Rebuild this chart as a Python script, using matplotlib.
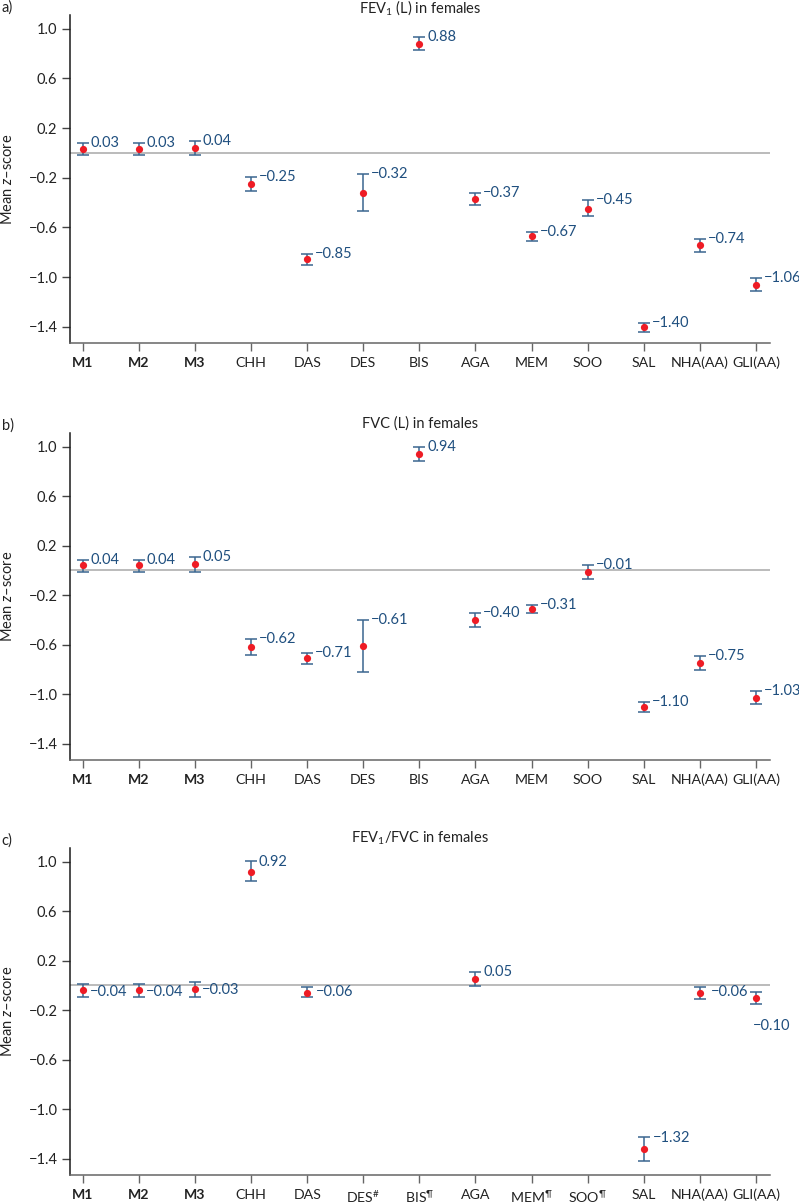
import numpy as np
import matplotlib
matplotlib.use('Agg')
import matplotlib.pyplot as plt

plt.rcParams['font.family'] = ['Lato', 'DejaVu Sans']
plt.rcParams['mathtext.fontset'] = 'custom'
plt.rcParams['mathtext.rm'] = 'Lato'
plt.rcParams['mathtext.it'] = 'Lato:italic'
plt.rcParams['mathtext.bf'] = 'Lato:bold'

# categories
cats = ['M1', 'M2', 'M3', 'CHH', 'DAS', 'DES', 'BIS', 'AGA', 'MEM', 'SOO', 'SAL', 'NHA(AA)', 'GLI(AA)']
cats_c = ['M1', 'M2', 'M3', 'CHH', 'DAS', r'DES$^{\#}$', r'BIS$^{\P}$', 'AGA',
          r'MEM$^{\P}$', r'SOO$^{\P}$', 'SAL', 'NHA(AA)', 'GLI(AA)']
nan = np.nan

# a) FEV1
mean_a = [0.03, 0.03, 0.04, -0.25, -0.85, -0.32, 0.88, -0.37, -0.67, -0.45, -1.40, -0.74, -1.06]
lo_a = [-0.02, -0.02, -0.02, -0.31, -0.90, -0.47, 0.83, -0.42, -0.71, -0.51, -1.445, -0.80, -1.115]
hi_a = [0.08, 0.08, 0.10, -0.19, -0.81, -0.17, 0.93, -0.32, -0.64, -0.38, -1.365, -0.69, -1.005]

# b) FVC
mean_b = [0.04, 0.04, 0.05, -0.62, -0.71, -0.61, 0.94, -0.40, -0.31, -0.01, -1.10, -0.75, -1.03]
lo_b = [-0.01, -0.01, -0.01, -0.685, -0.755, -0.82, 0.88, -0.46, -0.345, -0.065, -1.14, -0.80, -1.08]
hi_b = [0.085, 0.085, 0.11, -0.555, -0.67, -0.40, 0.995, -0.34, -0.28, 0.045, -1.06, -0.69, -0.97]

# c) FEV1/FVC
mean_c = [-0.04, -0.04, -0.03, 0.92, -0.06, nan, nan, 0.05, nan, nan, -1.32, -0.06, -0.10]
lo_c = [-0.095, -0.095, -0.09, 0.84, -0.095, nan, nan, -0.005, nan, nan, -1.415, -0.11, -0.15]
hi_c = [0.015, 0.01, 0.03, 1.005, -0.01, nan, nan, 0.11, nan, nan, -1.22, -0.01, -0.055]
# where the value labels sit in panel c (some were moved below the zero line)
laby_c = [-0.052, -0.054, -0.035, 1.0, -0.054, nan, nan, 0.108, nan, nan, -1.228, -0.054, -0.33]
labdx_c = [0.12, 0.12, 0.12, 0.14, 0.16, 0, 0, 0.14, 0, 0, 0.16, 0.19, -0.06]

yticks = [1.0, 0.6, 0.2, -0.2, -0.6, -1.0, -1.4]

fig = plt.figure(figsize=(7.99, 12.04), dpi=100)

panels = [
    ('a)', r'FEV$_1$ (L) in females', cats, mean_a, lo_a, hi_a, hi_a, None, [0.0876, 0.7151, 0.876, 0.2724], 2.5),
    ('b)', 'FVC (L) in females', cats, mean_b, lo_b, hi_b, hi_b, None, [0.0876, 0.3688, 0.876, 0.2716], 5),
    ('c)', r'FEV$_1$/FVC in females', cats_c, mean_c, lo_c, hi_c, laby_c, labdx_c, [0.0876, 0.0241, 0.876, 0.2716], 5),
]

blue = '#3a6690'
labcol = '#1f4f7f'

for letter, title, names, m, lo, hi, laby, labdx, pos, tpad in panels:
    ax = fig.add_axes(pos)
    x = np.arange(len(names))
    m = np.array(m, dtype=float)
    lo = np.array(lo, dtype=float)
    hi = np.array(hi, dtype=float)
    ax.axhline(0, color='#a8a8a8', lw=1.1, zorder=1)
    ax.errorbar(x, m, yerr=[m - lo, hi - m], fmt='none', ecolor=blue,
                elinewidth=1.1, capsize=4, capthick=1.1, zorder=2)
    ax.plot(x, m, 'o', color='#ee1c25', ms=5.2, mec='none', zorder=3)
    for i in range(len(x)):
        if np.isnan(m[i]):
            continue
        dx = 0.14 if labdx is None else labdx[i]
        ax.text(x[i] + dx, laby[i], ('%.2f' % m[i]).replace('-', '\u2212'),
                ha='left', va='center', fontsize=10.5, color=labcol)
    ax.set_xlim(-0.23, 12.25)
    ax.set_ylim(-1.53, 1.11)
    ax.spines['top'].set_visible(False)
    ax.spines['right'].set_visible(False)
    ax.spines['left'].set_color('#1a1a1a')
    ax.spines['left'].set_linewidth(1.1)
    ax.spines['bottom'].set_color('#666666')
    ax.spines['bottom'].set_linewidth(1.1)
    ax.set_yticks(yticks)
    ax.set_yticklabels([('%.1f' % t).replace('-', '\u2212') for t in yticks], fontsize=10.5, color='#222222')
    ax.set_xticks(x)
    ax.set_xticklabels(names, fontsize=10.2, color='#222222')
    for lab in ax.get_xticklabels()[:3]:
        lab.set_fontweight('bold')
    ax.tick_params(axis='y', length=6, width=1, color='#444444', pad=3)
    ax.tick_params(axis='x', length=6, width=1, color='#666666', pad=4)
    ax.set_ylabel(r'Mean $z$' + '\u2013score', fontsize=10.5, color='#222222')
    ax.yaxis.set_label_coords(-0.078, 0.5)
    ax.text(0.5, 1.0 + tpad / 327, title, transform=ax.transAxes, ha='center', va='baseline',
            fontsize=10.5, color='#222222')
    bb = ax.get_position()
    fig.text(0.002, bb.y1 + 0.006, letter, fontsize=10.5, color='#222222', ha='left', va='center')

fig.savefig('out.png', dpi=100)
